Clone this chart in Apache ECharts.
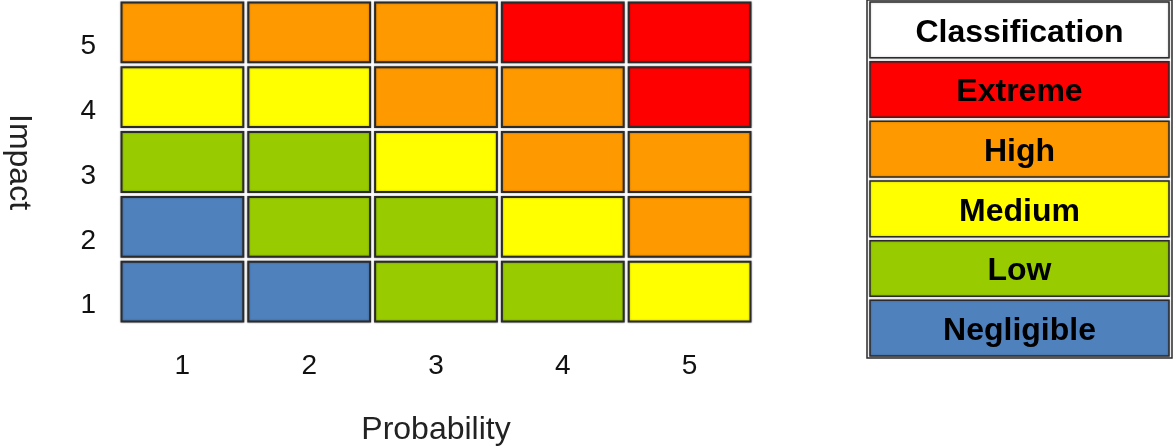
<!DOCTYPE html>
<html>
<head>
<meta charset="utf-8">
<script src="https://cdn.jsdelivr.net/npm/echarts@6/dist/echarts.min.js"></script>
<style>
  html, body { margin: 0; padding: 0; background: #fff; }
  #chart { width: 1174px; height: 446px; }
</style>
</head>
<body>
<div id="chart"></div>
<script>
// Risk matrix: probability (x) against impact (y), each cell coloured by class
const probabilityLabels = ['1', '2', '3', '4', '5'];
const impactLabels = ['1', '2', '3', '4', '5'];
const classNames = ['Negligible', 'Low', 'Medium', 'High', 'Extreme'];
const classColors = ['#4F81BD', '#99CC00', '#FFFF00', '#FF9900', '#FF0000'];
const legendTitle = 'Classification';

// class index per impact row (1..5), columns = probability 1..5
const impact1 = [0, 0, 1, 1, 2];
const impact2 = [0, 1, 1, 2, 3];
const impact3 = [1, 1, 2, 3, 3];
const impact4 = [2, 2, 3, 3, 4];
const impact5 = [3, 3, 3, 4, 4];
const impactRows = [impact1, impact2, impact3, impact4, impact5];

const font = '"Liberation Sans", Arial, sans-serif';

const cells = [];
impactRows.forEach((row, yi) => {
  row.forEach((cls, xi) => cells.push([xi, yi, cls]));
});

// legend rows from top: title then classes from most to least severe
const legendRows = [legendTitle].concat(classNames.slice().reverse());
const legendData = legendRows.map((name, i) => [0, legendRows.length - 1 - i, name]);

function renderCell(params, api) {
  const c = api.coord([api.value(0), api.value(1)]);
  const s = api.size([1, 1]);
  const cls = api.value(2);
  const inset = 2.5;
  return {
    type: 'rect',
    shape: {
      x: c[0] - s[0] / 2 + inset,
      y: c[1] - s[1] / 2 + inset,
      width: s[0] - inset * 2,
      height: s[1] - inset * 2
    },
    style: {
      fill: classColors[cls],
      stroke: '#2b2b2b',
      lineWidth: 2,
      shadowBlur: 2,
      shadowColor: 'rgba(0,0,0,0.35)'
    }
  };
}

function renderLegendRow(params, api) {
  const c = api.coord([0, api.value(1)]);
  const s = api.size([1, 1]);
  const idx = legendRows.length - 1 - api.value(1);
  const name = legendRows[idx];
  const fill = idx === 0 ? '#FFFFFF' : classColors[classNames.indexOf(name)];
  const insetX = 3, insetY = 2;
  return {
    type: 'group',
    children: [
      {
        type: 'rect',
        shape: {
          x: c[0] - s[0] / 2 + insetX,
          y: c[1] - s[1] / 2 + insetY,
          width: s[0] - insetX * 2,
          height: s[1] - insetY * 2
        },
        style: {
          fill: fill,
          stroke: '#2b2b2b',
          lineWidth: 1.5,
          shadowBlur: 2,
          shadowColor: 'rgba(0,0,0,0.3)'
        }
      },
      {
        type: 'text',
        x: c[0],
        y: c[1] + 3,
        style: {
          text: name,
          fill: '#000',
          font: 'bold 32px ' + font,
          align: 'center',
          verticalAlign: 'middle'
        }
      }
    ]
  };
}

const chart = echarts.init(document.getElementById('chart'), null, { renderer: 'canvas' });

chart.setOption({
  animation: false,
  backgroundColor: '#ffffff',
  grid: [
    { left: 119, top: 0, width: 634, height: 324, outerBoundsMode: 'none', containLabel: false },
    { left: 867, top: 0, width: 305, height: 358, show: true, outerBoundsMode: 'none', containLabel: false,
      borderColor: '#2b2b2b', borderWidth: 1.5, backgroundColor: '#fff' }
  ],
  xAxis: [
    {
      gridIndex: 0,
      type: 'category',
      data: probabilityLabels,
      name: 'Probability',
      nameLocation: 'middle',
      nameGap: 90,
      nameTextStyle: { fontFamily: font, fontSize: 32, color: '#222' },
      axisLine: { show: false },
      axisTick: { show: false },
      splitLine: { show: false },
      axisLabel: { fontFamily: font, fontSize: 28, color: '#111', margin: 28 }
    },
    {
      gridIndex: 1,
      type: 'category',
      data: ['c'],
      show: false
    }
  ],
  yAxis: [
    {
      gridIndex: 0,
      type: 'category',
      data: impactLabels,
      name: 'Impact',
      nameLocation: 'middle',
      nameGap: 84,
      nameRotate: -90,
      nameTextStyle: { fontFamily: font, fontSize: 32, color: '#222' },
      axisLine: { show: false },
      axisTick: { show: false },
      splitLine: { show: false },
      axisLabel: { fontFamily: font, fontSize: 28, color: '#111', margin: 23, verticalAlign: 'top' }
    },
    {
      gridIndex: 1,
      type: 'category',
      data: legendRows.map((_, i) => String(i)),
      show: false
    }
  ],
  series: [
    {
      type: 'custom',
      xAxisIndex: 0,
      yAxisIndex: 0,
      renderItem: renderCell,
      data: cells,
      encode: { x: 0, y: 1 }
    },
    {
      type: 'custom',
      xAxisIndex: 1,
      yAxisIndex: 1,
      renderItem: renderLegendRow,
      data: legendData,
      encode: { x: 0, y: 1 }
    }
  ]
});
</script>
</body>
</html>
